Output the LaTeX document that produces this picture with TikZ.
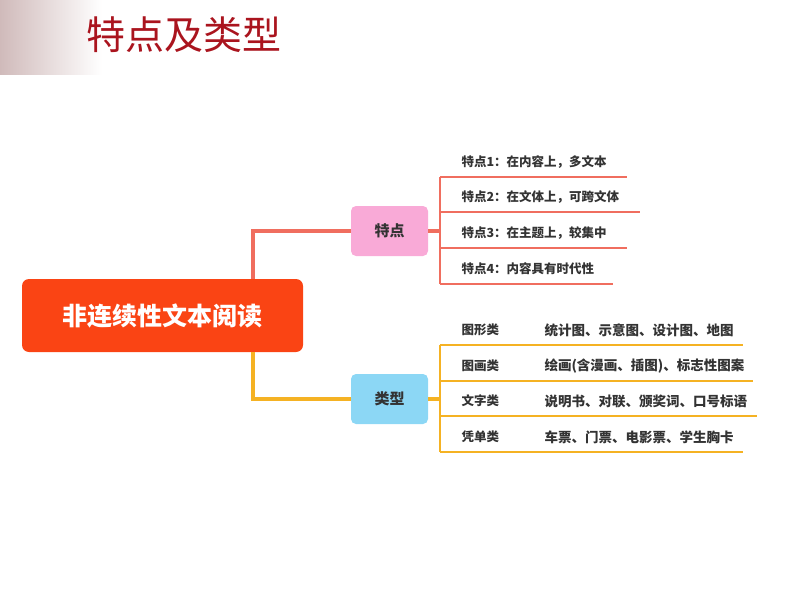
\documentclass[tikz,border=0pt]{standalone}
\usepackage{fontspec}
\setmainfont{Noto Sans CJK SC}
\usetikzlibrary{positioning}
\definecolor{titlered}{RGB}{170,20,30}
\definecolor{mainred}{RGB}{250,68,20}
\definecolor{salmon}{RGB}{240,110,95}
\definecolor{gold}{RGB}{245,178,35}
\definecolor{pinkbox}{RGB}{249,170,215}
\definecolor{bluebox}{RGB}{140,215,245}
\tikzset{
	branch box/.style={
		rounded corners=5pt,
		minimum width=77pt,
		minimum height=50pt,
		font=\bfseries\fontsize{15}{15}\selectfont,
		text=black!80,
	},
	leaf text/.style={
		anchor=west,
		font=\bfseries\fontsize{12.5}{12.5}\selectfont,
		text=black!80,
	},
	wide text/.style={leaf text, font=\bfseries\fontsize{13.5}{13.5}\selectfont},
	red line/.style={salmon, line width=4.5pt},
	gold line/.style={gold, line width=4.5pt},
	leaf line/.style={line width=2.5pt},
}
\begin{document}
\begin{tikzpicture}[x=1pt,y=-1pt]
\useasboundingbox (0,0) rectangle (794,596);
\shade[left color=black!5!red!20!gray!45, right color=white] (0,0) rectangle (102,75);

\node[anchor=west, text=titlered, font=\fontsize{39}{39}\selectfont] (title) at (83,35) {特点及类型};

\node[fill=mainred, rounded corners=7pt, minimum width=281pt, minimum height=73pt,
	text=white, font=\bfseries\fontsize{25}{25}\selectfont] (main) at (162.5,315.5) {非连续性文本阅读};

\node[branch box, fill=pinkbox] (tedian) at (389.5,231) {特点};
\node[branch box, fill=bluebox] (leixing) at (389.5,399) {类型};

\coordinate (hub1) at (440,231);
\coordinate (hub2) at (440,399);

% main to branches
\draw[red line] (main.north -| 253,0) |- (tedian.west);
\draw[gold line] (main.south -| 253,0) |- (leixing.west);
\draw[red line] (tedian.east) -- (hub1);
\draw[gold line] (leixing.east) -- (hub2);

% features
\foreach[count=\i] \y/\e/\t in {
	177/627/{特点1：在内容上，多文本},
	212/640/{特点2：在文体上，可跨文体},
	248/627/{特点3：在主题上，较集中},
	284/613/{特点4：内容具有时代性}%
}{
	\coordinate (f\i) at (440,\y);
	\coordinate (fe\i) at (\e,\y);
	\node[leaf text] (ft\i) at (458,\y-15) {\t};
	\draw[salmon, leaf line] (f\i) -- (fe\i);
}
\draw[salmon, leaf line] (f1) -- (f4);

% types
\foreach[count=\i] \y/\e/\c/\t in {
	345/743/图形类/{统计图、示意图、设计图、地图},
	381/753/图画类/{绘画(含漫画、插图)、标志性图案},
	416/757/文字类/{说明书、对联、颁奖词、口号标语},
	452/743/凭单类/{车票、门票、电影票、学生胸卡}%
}{
	\coordinate (t\i) at (440,\y);
	\coordinate (te\i) at (\e,\y);
	\node[leaf text] (tc\i) at (458,\y-15) {\c};
	\node[wide text] (td\i) at (541,\y-15) {\t};
	\draw[gold, leaf line] (t\i) -- (te\i);
}
\draw[gold, leaf line] (t1) -- (t4);
\end{tikzpicture}
\end{document}
